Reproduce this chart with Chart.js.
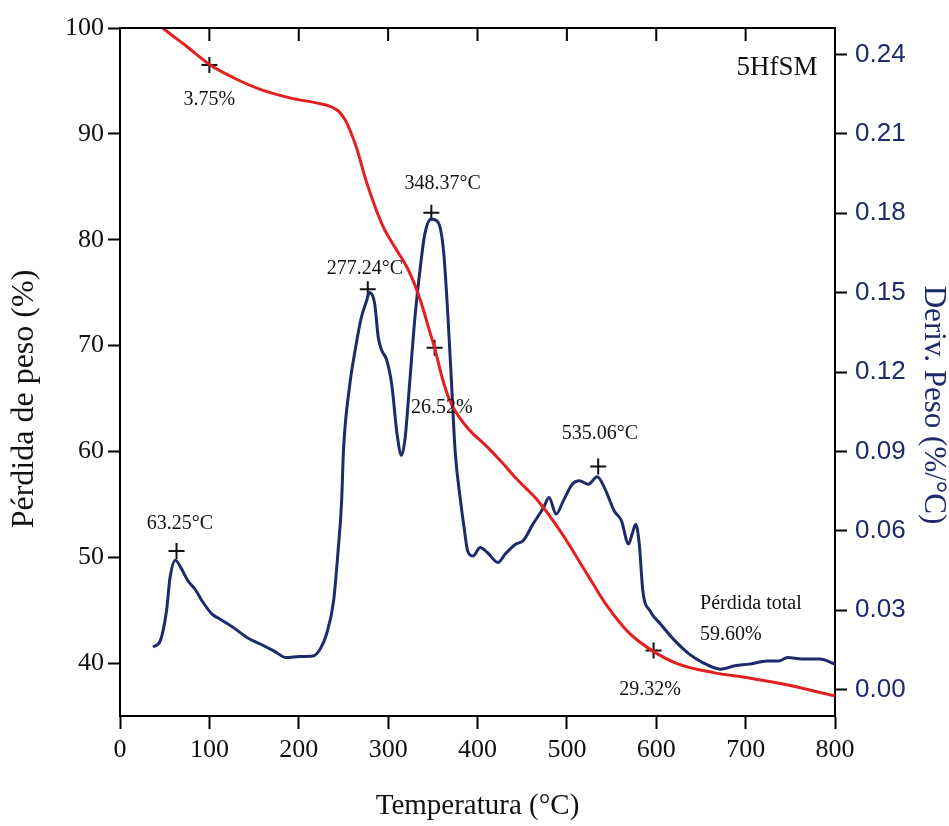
<!DOCTYPE html>
<html>
<head>
<meta charset="utf-8">
<script src="https://cdn.jsdelivr.net/npm/chart.js@4.4.1/dist/chart.umd.min.js"></script>
<style>
  html, body { margin: 0; padding: 0; background: #fff; }
  #wrap { width: 949px; height: 826px; }
</style>
</head>
<body>
<div id="wrap"><canvas id="myChart" width="949" height="826"></canvas></div>
<script>
// TGA curve (weight %, left axis)
const tgaTemp = [40, 48, 74, 101, 127, 157, 190, 224, 235, 245, 252, 258, 265, 276, 294, 309, 324, 336, 347, 352, 360, 369, 388, 410, 427, 446, 466, 494, 522, 545, 569, 595, 625, 664, 704, 743, 800];
const tgaWeight = [100.6, 100.0, 98.3, 96.5, 95.3, 94.2, 93.4, 92.85, 92.6, 92.1, 91.3, 90.2, 88.6, 85.4, 81.3, 79.1, 76.9, 74.3, 71.2, 69.8, 67.1, 64.8, 62.3, 60.5, 59.0, 57.2, 55.5, 52.3, 48.5, 45.4, 42.9, 41.2, 39.9, 39.1, 38.6, 38.0, 36.9];

// DTG curve (%/°C, right axis)
const dtgTemp = [37, 45, 52, 56, 62, 69, 76, 84, 93, 103, 112, 127, 142, 157, 172, 186, 201, 216, 224, 231, 239, 244, 248, 250, 257, 263, 270, 276, 279, 285, 289, 293, 298, 304, 310, 315, 319, 324, 330, 336, 341, 348, 356, 362, 367, 371, 375, 381, 385, 389, 395, 403, 411, 423, 431, 443, 451, 462, 474, 480, 488, 496, 506, 514, 524, 534, 542, 553, 561, 569, 573, 577, 581, 585, 593, 605, 621, 637, 652, 672, 688, 704, 724, 737, 747, 763, 783, 800];
const dtgDeriv = [0.0161, 0.0184, 0.0297, 0.0423, 0.0489, 0.0455, 0.0411, 0.0379, 0.0329, 0.0285, 0.0266, 0.0234, 0.0197, 0.0172, 0.0146, 0.0121, 0.0125, 0.0127, 0.0153, 0.0209, 0.0335, 0.0524, 0.0713, 0.090, 0.115, 0.128, 0.1406, 0.147, 0.150, 0.1457, 0.133, 0.128, 0.1249, 0.1154, 0.0965, 0.0885, 0.095, 0.1154, 0.1406, 0.1595, 0.172, 0.1778, 0.1765, 0.1658, 0.1406, 0.1154, 0.090, 0.0713, 0.0612, 0.0524, 0.0505, 0.0537, 0.0518, 0.048, 0.0512, 0.055, 0.0562, 0.0625, 0.0688, 0.0726, 0.0663, 0.0713, 0.0776, 0.0789, 0.0776, 0.0804, 0.0763, 0.0675, 0.0638, 0.055, 0.0587, 0.0625, 0.055, 0.0373, 0.0297, 0.0247, 0.0184, 0.0134, 0.0102, 0.0077, 0.009, 0.0096, 0.0108, 0.0108, 0.0121, 0.0115, 0.0115, 0.0096];

// "+" markers
const weightMarkTemp = [100, 352, 597];
const weightMarkValue = [96.5, 69.8, 41.2];
const peakMarkTemp = [63.25, 277.24, 348.37, 535.06];
const peakMarkValue = [0.0524, 0.1513, 0.1802, 0.0843];

// ticks
const tempTicks = [0, 100, 200, 300, 400, 500, 600, 700, 800];

// text labels: [text, temperature, value, axis, align]
const notes = [
  ["3.75%", 100, 93.2, "y", "center"],
  ["26.52%", 360, 64.1, "y", "center"],
  ["29.32%", 593, 37.45, "y", "center"],
  ["Pérdida total", 649, 45.6, "y", "left"],
  ["59.60%", 649, 42.7, "y", "left"],
  ["63.25°C", 67, 0.0626, "y2", "center"],
  ["277.24°C", 274, 0.159, "y2", "center"],
  ["348.37°C", 361, 0.1912, "y2", "center"],
  ["535.06°C", 537, 0.0967, "y2", "center"],
];

const serif = '"Liberation Serif", "Times New Roman", serif';
const sans = '"Liberation Sans", Arial, sans-serif';
const navy = "#1f2a6b";
const red = "#e3201f";

const xy = (xs, ys) => xs.map((x, i) => ({ x: x, y: ys[i] }));

const extras = {
  id: "extras",
  afterDraw(chart) {
    const ctx = chart.ctx;
    const area = chart.chartArea;
    const xs = chart.scales.x;
    ctx.save();
    // top frame with inner ticks
    ctx.strokeStyle = "#000";
    ctx.lineWidth = 2;
    ctx.beginPath();
    ctx.moveTo(area.left, area.top);
    ctx.lineTo(area.right, area.top);
    tempTicks.forEach((t) => {
      if (t > 0 && t < 800) {
        const px = xs.getPixelForValue(t);
        ctx.moveTo(px, area.top);
        ctx.lineTo(px, area.top + 13);
      }
    });
    ctx.stroke();

    // notes
    ctx.fillStyle = "#111";
    ctx.textBaseline = "middle";
    ctx.font = "20px " + serif;
    notes.forEach((n) => {
      ctx.textAlign = n[4];
      ctx.fillText(n[0], xs.getPixelForValue(n[1]), chart.scales[n[3]].getPixelForValue(n[2]));
    });
    ctx.font = "27px " + serif;
    ctx.textAlign = "center";
    ctx.fillText("5HfSM", xs.getPixelForValue(735), chart.scales.y.getPixelForValue(96.2));

    // axis titles
    const cy = (area.top + area.bottom) / 2;
    ctx.fillStyle = "#111";
    ctx.font = "29px " + serif;
    ctx.fillText("Temperatura (°C)", (area.left + area.right) / 2, area.bottom + 90);

    ctx.save();
    ctx.translate(25, cy + 27);
    ctx.rotate(-Math.PI / 2);
    ctx.font = "32px " + serif;
    ctx.fillText("Pérdida de peso (%)", 0, 0);
    ctx.restore();

    ctx.save();
    ctx.translate(933, cy + 33);
    ctx.rotate(Math.PI / 2);
    ctx.fillStyle = navy;
    ctx.font = "31px " + serif;
    ctx.fillText("Deriv. Peso (%/°C)", 0, 0);
    ctx.restore();

    ctx.restore();
  },
};

const ctx = document.getElementById("myChart");
new Chart(ctx, {
  type: "scatter",
  data: {
    datasets: [
      {
        data: xy(tgaTemp, tgaWeight),
        yAxisID: "y",
        showLine: true,
        borderColor: red,
        borderWidth: 3,
        pointRadius: 0,
        cubicInterpolationMode: "monotone",
      },
      {
        data: xy(dtgTemp, dtgDeriv),
        yAxisID: "y2",
        showLine: true,
        borderColor: navy,
        borderWidth: 3,
        pointRadius: 0,
        cubicInterpolationMode: "monotone",
      },
      {
        data: xy(weightMarkTemp, weightMarkValue),
        yAxisID: "y",
        pointStyle: "cross",
        pointRadius: 8,
        borderColor: "#111",
        borderWidth: 2,
      },
      {
        data: xy(peakMarkTemp, peakMarkValue),
        yAxisID: "y2",
        pointStyle: "cross",
        pointRadius: 8,
        borderColor: "#111",
        borderWidth: 2,
      },
    ],
  },
  options: {
    responsive: false,
    animation: false,
    layout: { padding: { top: 28 } },
    plugins: {
      legend: { display: false },
      tooltip: { enabled: false },
    },
    scales: {
      x: {
        type: "linear",
        position: "bottom",
        min: 0,
        max: 800,
        afterBuildTicks: (s) => {
          s.ticks = tempTicks.map((v) => ({ value: v }));
        },
        ticks: { color: "#111", font: { family: serif, size: 26 }, padding: 6, maxRotation: 0 },
        grid: { drawOnChartArea: false, tickLength: 13, tickColor: "#000", tickWidth: 2 },
        border: { color: "#000", width: 2 },
        afterFit: (s) => {
          s.height = 110;
        },
      },
      y: {
        position: "left",
        min: 35,
        max: 100,
        ticks: { stepSize: 10, includeBounds: false, color: "#111", font: { family: serif, size: 26 }, padding: 4 },
        grid: { drawOnChartArea: false, tickLength: 12, tickColor: "#000", tickWidth: 2 },
        border: { color: "#000", width: 2 },
        afterFit: (s) => {
          s.width = 120;
        },
      },
      y2: {
        position: "right",
        min: -0.01,
        max: 0.25,
        ticks: {
          stepSize: 0.03,
          includeBounds: false,
          color: navy,
          font: { family: sans, size: 26 },
          padding: 8,
          callback: (v) => v.toFixed(2),
        },
        grid: { drawOnChartArea: false, tickLength: 12, tickColor: "#000", tickWidth: 2 },
        border: { color: "#000", width: 2 },
        afterFit: (s) => {
          s.width = 114;
        },
      },
    },
  },
  plugins: [extras],
});
</script>
</body>
</html>
